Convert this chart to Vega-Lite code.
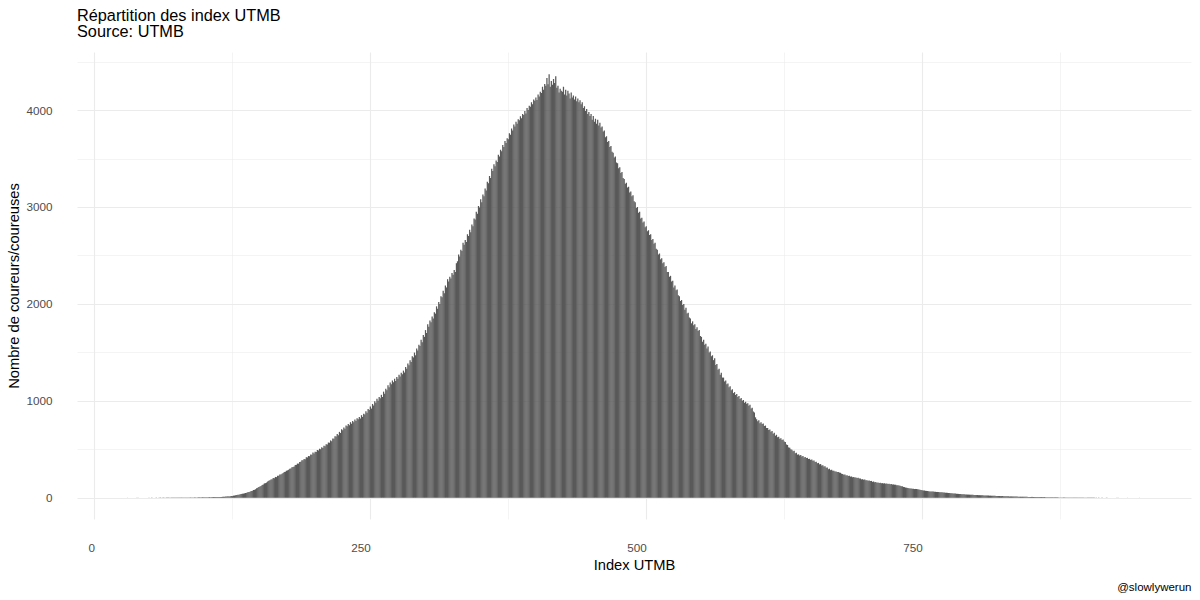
{
"$schema": "https://vega.github.io/schema/vega-lite/v6.json",
"autosize": {"type": "none"},
"padding": {"left": 77, "top": 52, "right": 9, "bottom": 81},
"width": 1114,
"height": 467,
"background": "white",
"config": {"font": "Liberation Sans", "view": {"stroke": null}},
"title": {"text": ["Répartition des index UTMB", "Source: UTMB"], "anchor": "start", "frame": "group", "fontSize": 16.3, "fontWeight": "normal", "color": "#000000", "lineHeight": 16, "offset": 12},
"data": {"values": [
{"x":30,"n":1},{"x":31,"n":1},{"x":33,"n":1},{"x":34,"n":1},{"x":36,"n":1},{"x":38,"n":1},{"x":39,"n":1},
{"x":40,"n":1},{"x":42,"n":1},{"x":43,"n":1},{"x":44,"n":1},{"x":46,"n":1},{"x":47,"n":1},{"x":49,"n":1},
{"x":50,"n":1},{"x":51,"n":1},{"x":52,"n":2},{"x":53,"n":1},{"x":54,"n":1},{"x":55,"n":1},{"x":56,"n":2},{"x":57,"n":1},{"x":58,"n":1},{"x":59,"n":2},
{"x":60,"n":2},{"x":61,"n":1},{"x":62,"n":2},{"x":63,"n":2},{"x":64,"n":1},{"x":65,"n":2},{"x":66,"n":2},{"x":67,"n":3},{"x":68,"n":2},{"x":69,"n":2},
{"x":70,"n":2},{"x":71,"n":3},{"x":72,"n":2},{"x":73,"n":2},{"x":74,"n":3},{"x":75,"n":3},{"x":76,"n":2},{"x":77,"n":3},{"x":78,"n":3},{"x":79,"n":3},
{"x":80,"n":3},{"x":81,"n":4},{"x":82,"n":3},{"x":83,"n":3},{"x":84,"n":4},{"x":85,"n":3},{"x":86,"n":4},{"x":87,"n":4},{"x":88,"n":3},{"x":89,"n":4},
{"x":90,"n":4},{"x":91,"n":5},{"x":92,"n":4},{"x":93,"n":4},{"x":94,"n":5},{"x":95,"n":5},{"x":96,"n":4},{"x":97,"n":5},{"x":98,"n":6},{"x":99,"n":5},
{"x":100,"n":5},{"x":101,"n":6},{"x":102,"n":5},{"x":103,"n":6},{"x":104,"n":7},{"x":105,"n":6},{"x":106,"n":6},{"x":107,"n":7},{"x":108,"n":7},{"x":109,"n":8},
{"x":110,"n":7},{"x":111,"n":8},{"x":112,"n":8},{"x":113,"n":9},{"x":114,"n":8},{"x":115,"n":9},{"x":116,"n":10},{"x":117,"n":11},{"x":118,"n":10},{"x":119,"n":12},
{"x":120,"n":12},{"x":121,"n":15},{"x":122,"n":13},{"x":123,"n":16},{"x":124,"n":18},{"x":125,"n":17},{"x":126,"n":22},{"x":127,"n":23},{"x":128,"n":27},{"x":129,"n":28},
{"x":130,"n":31},{"x":131,"n":32},{"x":132,"n":36},{"x":133,"n":38},{"x":134,"n":41},{"x":135,"n":43},{"x":136,"n":46},{"x":137,"n":50},{"x":138,"n":53},{"x":139,"n":57},
{"x":140,"n":60},{"x":141,"n":62},{"x":142,"n":69},{"x":143,"n":71},{"x":144,"n":79},{"x":145,"n":82},{"x":146,"n":88},{"x":147,"n":97},{"x":148,"n":104},{"x":149,"n":112},
{"x":150,"n":117},{"x":151,"n":121},{"x":152,"n":133},{"x":153,"n":138},{"x":154,"n":148},{"x":155,"n":151},{"x":156,"n":157},{"x":157,"n":168},{"x":158,"n":175},{"x":159,"n":182},
{"x":160,"n":188},{"x":161,"n":190},{"x":162,"n":203},{"x":163,"n":201},{"x":164,"n":215},{"x":165,"n":213},{"x":166,"n":228},{"x":167,"n":226},{"x":168,"n":241},{"x":169,"n":239},
{"x":170,"n":248},{"x":171,"n":256},{"x":172,"n":265},{"x":173,"n":268},{"x":174,"n":279},{"x":175,"n":283},{"x":176,"n":290},{"x":177,"n":300},{"x":178,"n":303},{"x":179,"n":314},
{"x":180,"n":318},{"x":181,"n":322},{"x":182,"n":337},{"x":183,"n":340},{"x":184,"n":353},{"x":185,"n":352},{"x":186,"n":370},{"x":187,"n":371},{"x":188,"n":388},{"x":189,"n":387},
{"x":190,"n":401},{"x":191,"n":398},{"x":192,"n":418},{"x":193,"n":416},{"x":194,"n":431},{"x":195,"n":428},{"x":196,"n":447},{"x":197,"n":444},{"x":198,"n":466},{"x":199,"n":458},
{"x":200,"n":476},{"x":201,"n":471},{"x":202,"n":492},{"x":203,"n":488},{"x":204,"n":506},{"x":205,"n":500},{"x":206,"n":522},{"x":207,"n":513},{"x":208,"n":536},{"x":209,"n":532},
{"x":210,"n":551},{"x":211,"n":549},{"x":212,"n":570},{"x":213,"n":568},{"x":214,"n":592},{"x":215,"n":582},{"x":216,"n":612},{"x":217,"n":608},{"x":218,"n":635},{"x":219,"n":632},
{"x":220,"n":658},{"x":221,"n":645},{"x":222,"n":680},{"x":223,"n":668},{"x":224,"n":708},{"x":225,"n":696},{"x":226,"n":726},{"x":227,"n":712},{"x":228,"n":745},{"x":229,"n":738},
{"x":230,"n":762},{"x":231,"n":748},{"x":232,"n":780},{"x":233,"n":764},{"x":234,"n":792},{"x":235,"n":778},{"x":236,"n":808},{"x":237,"n":792},{"x":238,"n":820},{"x":239,"n":810},
{"x":240,"n":833},{"x":241,"n":818},{"x":242,"n":852},{"x":243,"n":834},{"x":244,"n":866},{"x":245,"n":860},{"x":246,"n":893},{"x":247,"n":876},{"x":248,"n":915},{"x":249,"n":905},
{"x":250,"n":942},{"x":251,"n":920},{"x":252,"n":968},{"x":253,"n":952},{"x":254,"n":995},{"x":255,"n":980},{"x":256,"n":1022},{"x":257,"n":1002},{"x":258,"n":1040},{"x":259,"n":1028},
{"x":260,"n":1062},{"x":261,"n":1040},{"x":262,"n":1095},{"x":263,"n":1072},{"x":264,"n":1126},{"x":265,"n":1110},{"x":266,"n":1160},{"x":267,"n":1140},{"x":268,"n":1188},{"x":269,"n":1170},
{"x":270,"n":1210},{"x":271,"n":1192},{"x":272,"n":1228},{"x":273,"n":1205},{"x":274,"n":1245},{"x":275,"n":1228},{"x":276,"n":1268},{"x":277,"n":1250},{"x":278,"n":1290},{"x":279,"n":1275},
{"x":280,"n":1312},{"x":281,"n":1292},{"x":282,"n":1350},{"x":283,"n":1330},{"x":284,"n":1385},{"x":285,"n":1368},{"x":286,"n":1420},{"x":287,"n":1400},{"x":288,"n":1460},{"x":289,"n":1448},
{"x":290,"n":1498},{"x":291,"n":1470},{"x":292,"n":1540},{"x":293,"n":1520},{"x":294,"n":1580},{"x":295,"n":1565},{"x":296,"n":1630},{"x":297,"n":1605},{"x":298,"n":1680},{"x":299,"n":1660},
{"x":300,"n":1730},{"x":301,"n":1700},{"x":302,"n":1790},{"x":303,"n":1765},{"x":304,"n":1828},{"x":305,"n":1812},{"x":306,"n":1870},{"x":307,"n":1850},{"x":308,"n":1915},{"x":309,"n":1900},
{"x":310,"n":1975},{"x":311,"n":1950},{"x":312,"n":2020},{"x":313,"n":2000},{"x":314,"n":2080},{"x":315,"n":2070},{"x":316,"n":2135},{"x":317,"n":2110},{"x":318,"n":2190},{"x":319,"n":2170},
{"x":320,"n":2255},{"x":321,"n":2230},{"x":322,"n":2280},{"x":323,"n":2262},{"x":324,"n":2320},{"x":325,"n":2300},{"x":326,"n":2350},{"x":327,"n":2330},{"x":328,"n":2420},{"x":329,"n":2440},
{"x":330,"n":2510},{"x":331,"n":2488},{"x":332,"n":2560},{"x":333,"n":2545},{"x":334,"n":2630},{"x":335,"n":2610},{"x":336,"n":2660},{"x":337,"n":2640},{"x":338,"n":2720},{"x":339,"n":2700},
{"x":340,"n":2765},{"x":341,"n":2740},{"x":342,"n":2820},{"x":343,"n":2800},{"x":344,"n":2880},{"x":345,"n":2870},{"x":346,"n":2950},{"x":347,"n":2930},{"x":348,"n":3010},{"x":349,"n":2995},
{"x":350,"n":3080},{"x":351,"n":3050},{"x":352,"n":3130},{"x":353,"n":3110},{"x":354,"n":3190},{"x":355,"n":3170},{"x":356,"n":3260},{"x":357,"n":3245},{"x":358,"n":3320},{"x":359,"n":3300},
{"x":360,"n":3395},{"x":361,"n":3370},{"x":362,"n":3440},{"x":363,"n":3420},{"x":364,"n":3480},{"x":365,"n":3465},{"x":366,"n":3540},{"x":367,"n":3520},{"x":368,"n":3590},{"x":369,"n":3575},
{"x":370,"n":3640},{"x":371,"n":3620},{"x":372,"n":3680},{"x":373,"n":3660},{"x":374,"n":3710},{"x":375,"n":3700},{"x":376,"n":3760},{"x":377,"n":3745},{"x":378,"n":3810},{"x":379,"n":3790},
{"x":380,"n":3850},{"x":381,"n":3830},{"x":382,"n":3880},{"x":383,"n":3860},{"x":384,"n":3905},{"x":385,"n":3895},{"x":386,"n":3935},{"x":387,"n":3915},{"x":388,"n":3960},{"x":389,"n":3950},
{"x":390,"n":3990},{"x":391,"n":3965},{"x":392,"n":4020},{"x":393,"n":4000},{"x":394,"n":4045},{"x":395,"n":4035},{"x":396,"n":4080},{"x":397,"n":4060},{"x":398,"n":4110},{"x":399,"n":4095},
{"x":400,"n":4130},{"x":401,"n":4105},{"x":402,"n":4160},{"x":403,"n":4140},{"x":404,"n":4190},{"x":405,"n":4175},{"x":406,"n":4240},{"x":407,"n":4210},{"x":408,"n":4270},{"x":409,"n":4250},
{"x":410,"n":4330},{"x":411,"n":4265},{"x":412,"n":4370},{"x":413,"n":4240},{"x":414,"n":4300},{"x":415,"n":4260},{"x":416,"n":4320},{"x":417,"n":4280},{"x":418,"n":4350},{"x":419,"n":4230},
{"x":420,"n":4250},{"x":421,"n":4180},{"x":422,"n":4220},{"x":423,"n":4200},{"x":424,"n":4190},{"x":425,"n":4240},{"x":426,"n":4160},{"x":427,"n":4210},{"x":428,"n":4150},{"x":429,"n":4200},
{"x":430,"n":4170},{"x":431,"n":4120},{"x":432,"n":4180},{"x":433,"n":4130},{"x":434,"n":4150},{"x":435,"n":4110},{"x":436,"n":4140},{"x":437,"n":4090},{"x":438,"n":4120},{"x":439,"n":4080},
{"x":440,"n":4100},{"x":441,"n":4060},{"x":442,"n":4080},{"x":443,"n":4020},{"x":444,"n":4040},{"x":445,"n":3990},{"x":446,"n":4010},{"x":447,"n":3960},{"x":448,"n":3980},{"x":449,"n":3940},
{"x":450,"n":3960},{"x":451,"n":3900},{"x":452,"n":3940},{"x":453,"n":3880},{"x":454,"n":3910},{"x":455,"n":3860},{"x":456,"n":3900},{"x":457,"n":3840},{"x":458,"n":3870},{"x":459,"n":3820},
{"x":460,"n":3830},{"x":461,"n":3780},{"x":462,"n":3790},{"x":463,"n":3720},{"x":464,"n":3730},{"x":465,"n":3670},{"x":466,"n":3680},{"x":467,"n":3620},{"x":468,"n":3630},{"x":469,"n":3570},
{"x":470,"n":3560},{"x":471,"n":3510},{"x":472,"n":3520},{"x":473,"n":3460},{"x":474,"n":3450},{"x":475,"n":3400},{"x":476,"n":3410},{"x":477,"n":3350},{"x":478,"n":3360},{"x":479,"n":3300},
{"x":480,"n":3290},{"x":481,"n":3240},{"x":482,"n":3250},{"x":483,"n":3200},{"x":484,"n":3210},{"x":485,"n":3150},{"x":486,"n":3160},{"x":487,"n":3110},{"x":488,"n":3120},{"x":489,"n":3060},
{"x":490,"n":3050},{"x":491,"n":2990},{"x":492,"n":3000},{"x":493,"n":2940},{"x":494,"n":2950},{"x":495,"n":2880},{"x":496,"n":2890},{"x":497,"n":2840},{"x":498,"n":2850},{"x":499,"n":2790},
{"x":500,"n":2800},{"x":501,"n":2750},{"x":502,"n":2760},{"x":503,"n":2710},{"x":504,"n":2720},{"x":505,"n":2660},{"x":506,"n":2670},{"x":507,"n":2620},{"x":508,"n":2630},{"x":509,"n":2570},
{"x":510,"n":2560},{"x":511,"n":2510},{"x":512,"n":2520},{"x":513,"n":2460},{"x":514,"n":2470},{"x":515,"n":2420},{"x":516,"n":2430},{"x":517,"n":2380},{"x":518,"n":2390},{"x":519,"n":2330},
{"x":520,"n":2330},{"x":521,"n":2280},{"x":522,"n":2290},{"x":523,"n":2230},{"x":524,"n":2240},{"x":525,"n":2170},{"x":526,"n":2190},{"x":527,"n":2140},{"x":528,"n":2150},{"x":529,"n":2090},
{"x":530,"n":2080},{"x":531,"n":2030},{"x":532,"n":2040},{"x":533,"n":1990},{"x":534,"n":2000},{"x":535,"n":1940},{"x":536,"n":1960},{"x":537,"n":1900},{"x":538,"n":1910},{"x":539,"n":1860},
{"x":540,"n":1850},{"x":541,"n":1800},{"x":542,"n":1820},{"x":543,"n":1780},{"x":544,"n":1790},{"x":545,"n":1740},{"x":546,"n":1760},{"x":547,"n":1720},{"x":548,"n":1730},{"x":549,"n":1670},
{"x":550,"n":1660},{"x":551,"n":1610},{"x":552,"n":1630},{"x":553,"n":1580},{"x":554,"n":1590},{"x":555,"n":1540},{"x":556,"n":1560},{"x":557,"n":1500},{"x":558,"n":1510},{"x":559,"n":1460},
{"x":560,"n":1470},{"x":561,"n":1420},{"x":562,"n":1440},{"x":563,"n":1370},{"x":564,"n":1380},{"x":565,"n":1320},{"x":566,"n":1330},{"x":567,"n":1270},{"x":568,"n":1290},{"x":569,"n":1240},
{"x":570,"n":1240},{"x":571,"n":1200},{"x":572,"n":1210},{"x":573,"n":1170},{"x":574,"n":1180},{"x":575,"n":1140},{"x":576,"n":1150},{"x":577,"n":1110},{"x":578,"n":1120},{"x":579,"n":1080},
{"x":580,"n":1090},{"x":581,"n":1060},{"x":582,"n":1070},{"x":583,"n":1040},{"x":584,"n":1050},{"x":585,"n":1020},{"x":586,"n":1030},{"x":587,"n":1000},{"x":588,"n":1010},{"x":589,"n":980},
{"x":590,"n":990},{"x":591,"n":970},{"x":592,"n":975},{"x":593,"n":950},{"x":594,"n":960},{"x":595,"n":920},{"x":596,"n":930},{"x":597,"n":890},{"x":598,"n":880},{"x":599,"n":830},
{"x":600,"n":810},{"x":601,"n":790},{"x":602,"n":800},{"x":603,"n":770},{"x":604,"n":780},{"x":605,"n":760},{"x":606,"n":765},{"x":607,"n":740},{"x":608,"n":745},{"x":609,"n":720},
{"x":610,"n":720},{"x":611,"n":700},{"x":612,"n":705},{"x":613,"n":680},{"x":614,"n":690},{"x":615,"n":660},{"x":616,"n":670},{"x":617,"n":640},{"x":618,"n":650},{"x":619,"n":625},
{"x":620,"n":630},{"x":621,"n":610},{"x":622,"n":615},{"x":623,"n":595},{"x":624,"n":600},{"x":625,"n":580},{"x":626,"n":575},{"x":627,"n":550},{"x":628,"n":545},{"x":629,"n":520},
{"x":630,"n":515},{"x":631,"n":500},{"x":632,"n":495},{"x":633,"n":480},{"x":634,"n":485},{"x":635,"n":460},{"x":636,"n":465},{"x":637,"n":445},{"x":638,"n":448},{"x":639,"n":435},
{"x":640,"n":440},{"x":641,"n":425},{"x":642,"n":430},{"x":643,"n":415},{"x":644,"n":420},{"x":645,"n":410},{"x":646,"n":412},{"x":647,"n":400},{"x":648,"n":402},{"x":649,"n":390},
{"x":650,"n":395},{"x":651,"n":382},{"x":652,"n":385},{"x":653,"n":370},{"x":654,"n":372},{"x":655,"n":355},{"x":656,"n":360},{"x":657,"n":345},{"x":658,"n":348},{"x":659,"n":332},
{"x":660,"n":335},{"x":661,"n":322},{"x":662,"n":325},{"x":663,"n":310},{"x":664,"n":312},{"x":665,"n":295},{"x":666,"n":300},{"x":667,"n":285},{"x":668,"n":288},{"x":669,"n":278},
{"x":670,"n":280},{"x":671,"n":270},{"x":672,"n":272},{"x":673,"n":265},{"x":674,"n":266},{"x":675,"n":260},{"x":676,"n":258},{"x":677,"n":248},{"x":678,"n":245},{"x":679,"n":238},
{"x":680,"n":240},{"x":681,"n":230},{"x":682,"n":232},{"x":683,"n":225},{"x":684,"n":226},{"x":685,"n":218},{"x":686,"n":220},{"x":687,"n":212},{"x":688,"n":214},{"x":689,"n":208},
{"x":690,"n":210},{"x":691,"n":204},{"x":692,"n":206},{"x":693,"n":198},{"x":694,"n":200},{"x":695,"n":190},{"x":696,"n":192},{"x":697,"n":186},{"x":698,"n":188},{"x":699,"n":180},
{"x":700,"n":182},{"x":701,"n":176},{"x":702,"n":178},{"x":703,"n":172},{"x":704,"n":174},{"x":705,"n":165},{"x":706,"n":168},{"x":707,"n":160},{"x":708,"n":162},{"x":709,"n":156},
{"x":710,"n":158},{"x":711,"n":152},{"x":712,"n":155},{"x":713,"n":150},{"x":714,"n":151},{"x":715,"n":148},{"x":716,"n":150},{"x":717,"n":145},{"x":718,"n":146},{"x":719,"n":143},
{"x":720,"n":145},{"x":721,"n":140},{"x":722,"n":142},{"x":723,"n":137},{"x":724,"n":138},{"x":725,"n":135},{"x":726,"n":134},{"x":727,"n":130},{"x":728,"n":128},{"x":729,"n":126},
{"x":730,"n":125},{"x":731,"n":120},{"x":732,"n":118},{"x":733,"n":112},{"x":734,"n":110},{"x":735,"n":105},{"x":736,"n":104},{"x":737,"n":100},{"x":738,"n":99},{"x":739,"n":96},
{"x":740,"n":95},{"x":741,"n":93},{"x":742,"n":92},{"x":743,"n":90},{"x":744,"n":91},{"x":745,"n":90},{"x":746,"n":88},{"x":747,"n":85},{"x":748,"n":83},{"x":749,"n":80},
{"x":750,"n":78},{"x":751,"n":76},{"x":752,"n":75},{"x":753,"n":72},{"x":754,"n":71},{"x":755,"n":69},{"x":756,"n":68},{"x":757,"n":66},{"x":758,"n":66},{"x":759,"n":64},
{"x":760,"n":64},{"x":761,"n":62},{"x":762,"n":62},{"x":763,"n":60},{"x":764,"n":60},{"x":765,"n":59},{"x":766,"n":58},{"x":767,"n":57},{"x":768,"n":56},{"x":769,"n":55},
{"x":770,"n":54},{"x":771,"n":53},{"x":772,"n":52},{"x":773,"n":51},{"x":774,"n":50},{"x":775,"n":48},{"x":776,"n":47},{"x":777,"n":46},{"x":778,"n":45},{"x":779,"n":44},
{"x":780,"n":43},{"x":781,"n":42},{"x":782,"n":41},{"x":783,"n":40},{"x":784,"n":39},{"x":785,"n":38},{"x":786,"n":37},{"x":787,"n":36},{"x":788,"n":36},{"x":789,"n":35},
{"x":790,"n":34},{"x":791,"n":33},{"x":792,"n":33},{"x":793,"n":32},{"x":794,"n":31},{"x":795,"n":30},{"x":796,"n":30},{"x":797,"n":29},{"x":798,"n":29},{"x":799,"n":28},
{"x":800,"n":28},{"x":801,"n":27},{"x":802,"n":27},{"x":803,"n":26},{"x":804,"n":25},{"x":805,"n":25},{"x":806,"n":24},{"x":807,"n":24},{"x":808,"n":23},{"x":809,"n":23},
{"x":810,"n":23},{"x":811,"n":22},{"x":812,"n":22},{"x":813,"n":21},{"x":814,"n":21},{"x":815,"n":21},{"x":816,"n":20},{"x":817,"n":19},{"x":818,"n":19},{"x":819,"n":18},
{"x":820,"n":18},{"x":821,"n":17},{"x":822,"n":17},{"x":823,"n":17},{"x":824,"n":16},{"x":825,"n":16},{"x":826,"n":15},{"x":827,"n":15},{"x":828,"n":15},{"x":829,"n":14},
{"x":830,"n":14},{"x":831,"n":14},{"x":832,"n":13},{"x":833,"n":13},{"x":834,"n":12},{"x":835,"n":12},{"x":836,"n":12},{"x":837,"n":11},{"x":838,"n":11},{"x":839,"n":11},
{"x":840,"n":11},{"x":841,"n":11},{"x":842,"n":10},{"x":843,"n":10},{"x":844,"n":10},{"x":845,"n":10},{"x":846,"n":9},{"x":847,"n":9},{"x":848,"n":9},{"x":849,"n":9},
{"x":850,"n":9},{"x":851,"n":8},{"x":852,"n":8},{"x":853,"n":8},{"x":854,"n":8},{"x":855,"n":8},{"x":856,"n":7},{"x":857,"n":7},{"x":858,"n":7},{"x":859,"n":7},
{"x":860,"n":7},{"x":861,"n":7},{"x":862,"n":6},{"x":863,"n":6},{"x":864,"n":6},{"x":865,"n":6},{"x":866,"n":6},{"x":867,"n":5},{"x":868,"n":5},{"x":869,"n":5},
{"x":870,"n":5},{"x":871,"n":5},{"x":872,"n":5},{"x":873,"n":5},{"x":874,"n":4},{"x":875,"n":4},{"x":876,"n":4},{"x":877,"n":4},{"x":878,"n":4},{"x":879,"n":4},
{"x":880,"n":4},{"x":881,"n":4},{"x":882,"n":3},{"x":883,"n":3},{"x":884,"n":3},{"x":885,"n":3},{"x":886,"n":3},{"x":887,"n":3},{"x":888,"n":3},{"x":889,"n":3},
{"x":890,"n":3},{"x":891,"n":3},{"x":892,"n":3},{"x":893,"n":2},{"x":894,"n":2},{"x":895,"n":2},{"x":896,"n":2},{"x":897,"n":2},{"x":898,"n":2},{"x":899,"n":2},
{"x":900,"n":2},{"x":901,"n":2},{"x":902,"n":2},{"x":903,"n":2},{"x":904,"n":2},{"x":905,"n":2},{"x":906,"n":2},{"x":907,"n":1},{"x":908,"n":2},{"x":909,"n":1},
{"x":910,"n":2},{"x":911,"n":1},{"x":912,"n":1},{"x":913,"n":2},{"x":914,"n":1},{"x":915,"n":1},{"x":916,"n":1},{"x":917,"n":2},{"x":918,"n":1},{"x":919,"n":1},
{"x":920,"n":1},{"x":921,"n":1},{"x":922,"n":1},{"x":923,"n":1},{"x":924,"n":1},{"x":926,"n":1},{"x":927,"n":1},{"x":928,"n":1},
{"x":930,"n":1},{"x":931,"n":1},{"x":933,"n":1},{"x":934,"n":1},{"x":936,"n":1},{"x":938,"n":1},{"x":939,"n":1},
{"x":940,"n":1},{"x":942,"n":1},{"x":943,"n":1},{"x":945,"n":1},{"x":947,"n":1}
]},
"layer": [
{
"mark": {"type": "bar", "width": 1.25, "color": "#595959"},
"encoding": {
"x": {"field": "x", "type": "quantitative",
"scale": {"domain": [-15.8, 993.6], "nice": false, "zero": false, "padding": 0},
"axis": {"orient": "bottom", "title": "Index UTMB", "values": [0, 125, 250, 375, 500, 625, 750, 875], "format": "d",
"labelExpr": "datum.value % 250 === 0 ? datum.label : ''",
"labelAlign": "right", "labelFontSize": 11.7, "labelColor": "#4D4D4D", "labelPadding": 23,
"ticks": false, "tickSize": 0, "domain": false,
"gridColor": "#EBEBEB", "gridWidth": {"condition": {"test": "datum.value % 250 === 0", "value": 1.1}, "value": 0.55},
"titleFontSize": 14.7, "titleFontWeight": "normal", "titleColor": "#000000", "titlePadding": 4}},
"y": {"field": "n", "type": "quantitative",
"scale": {"domain": [-219, 4599], "nice": false, "zero": false},
"axis": {"title": "Nombre de coureurs/coureuses", "values": [0, 500, 1000, 1500, 2000, 2500, 3000, 3500, 4000, 4500], "format": "d",
"labelExpr": "datum.value % 1000 === 0 ? datum.label : ''",
"labelFontSize": 11.7, "labelColor": "#4D4D4D", "labelPadding": 25,
"ticks": false, "tickSize": 0, "domain": false,
"gridColor": "#EBEBEB", "gridWidth": {"condition": {"test": "datum.value % 1000 === 0", "value": 1.1}, "value": 0.55},
"titleFontSize": 14.7, "titleFontWeight": "normal", "titleColor": "#000000", "titlePadding": 4}}
}
},
{
"mark": {"type": "point", "opacity": 0},
"encoding": {
"x": {"field": "x", "type": "quantitative",
"scale": {"domain": [-15.8, 993.6], "nice": false, "zero": false, "padding": 0},
"axis": {"orient": "bottom", "title": "@slowlywerun", "labels": false, "ticks": false, "tickSize": 0, "domain": false, "grid": false,
"offset": 62, "titlePadding": 0, "titleAnchor": "end", "titleFontSize": 11.5, "titleFontWeight": "normal", "titleColor": "#000000"}},
"y": {"field": "n", "type": "quantitative"}
}
}
],
"resolve": {"scale": {"x": "independent"}, "axis": {"x": "independent"}}
}
